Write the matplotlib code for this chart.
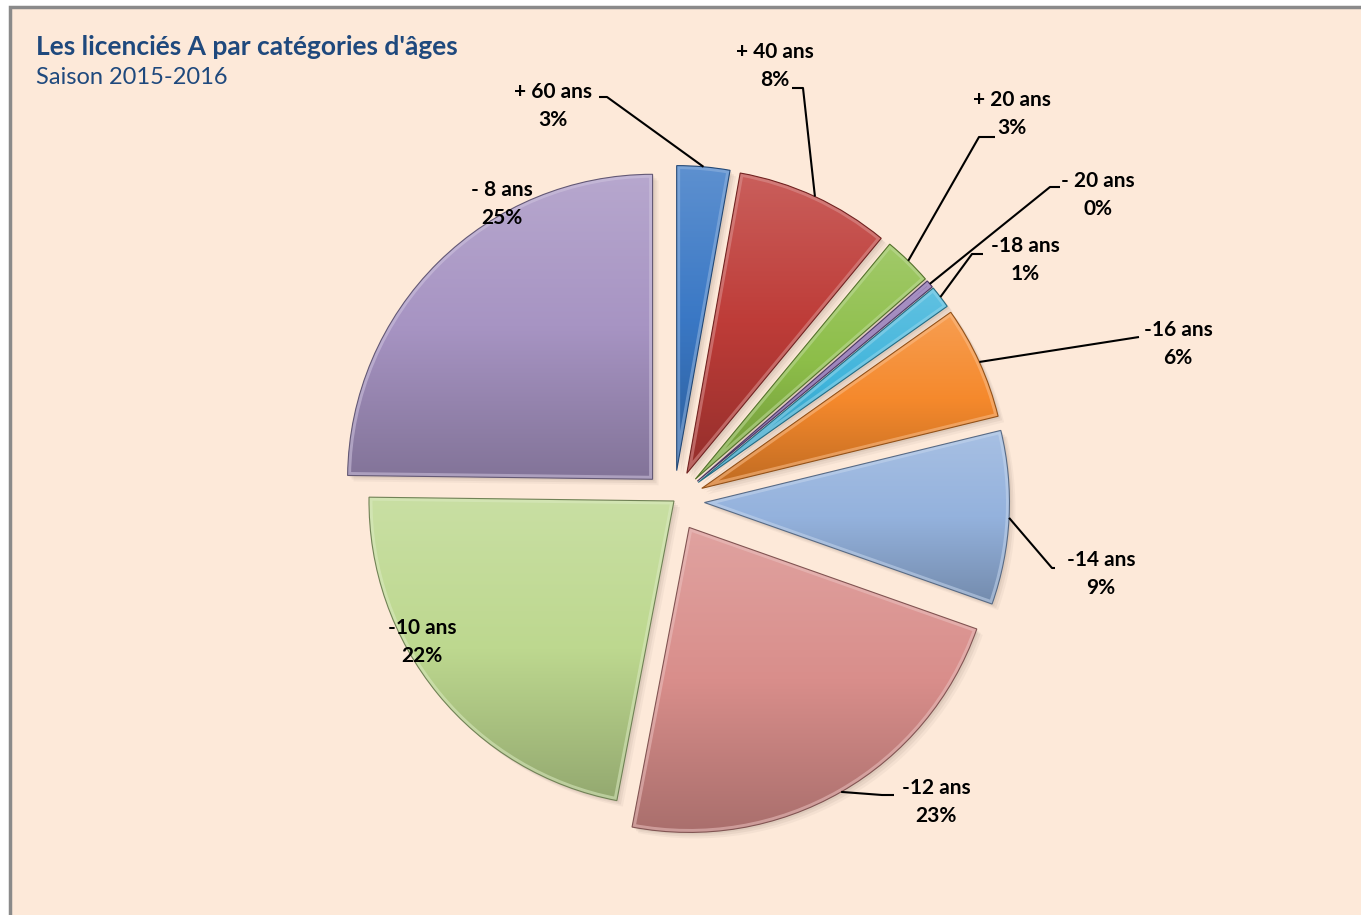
import numpy as np
import matplotlib.pyplot as plt
import matplotlib.colors as mcolors
from matplotlib.patches import Rectangle, Wedge

plt.rcParams['font.family'] = ['Lato', 'DejaVu Sans']

# --- data -------------------------------------------------------------
categories = ['+ 60 ans', '+ 40 ans', '+ 20 ans', '- 20 ans', '-18 ans',
              '-16 ans', '-14 ans', '-12 ans', '-10 ans', '- 8 ans']
values = [2.8, 8.2, 2.6, 0.4, 1.2, 6.0, 9.2, 22.6, 22.2, 24.8]
slice_colors = ['#3A78C5', '#BE3C38', '#8DBE49', '#7D5DA6', '#3FB4DB',
                '#F5892C', '#94B2DD', '#D98E8B', '#BDD88F', '#A794C3']

title = "Les licenciés A par catégories d'âges"
subtitle = "Saison 2015-2016"

# --- layout (pixels, measured from the top-left corner) ----------------
W, H = 1361, 915
R = 305
CX, CY = 674, 501

label_pos = {
    '+ 60 ans': (553, 106), '+ 40 ans': (775, 66), '+ 20 ans': (1012, 114),
    '- 20 ans': (1098, 195), '-18 ans': (1025, 260), '-16 ans': (1178, 344),
    '-14 ans': (1101, 574), '-12 ans': (936, 802), '-10 ans': (422, 642),
    '- 8 ans': (502, 204),
}
# leader line: start point next to the label and elbow, end is on the slice
leaders = {
    '+ 60 ans': [(599, 97), (607, 97)],
    '+ 40 ans': [(792, 88), (803, 88)],
    '+ 20 ans': [(995, 137), (979, 137)],
    '- 20 ans': [(1060, 187), (1050, 187)],
    '-18 ans': [(983, 254), (972, 254)],
    '-16 ans': [(1139, 337), (1139, 337)],
    '-14 ans': [(1055, 568), (1052, 568)],
    '-12 ans': [(894, 795), (882, 795)],
}


def py(y):
    return H - y


fig = plt.figure(figsize=(W / 100, H / 100), dpi=100)
ax = fig.add_axes([0, 0, 1, 1])

# chart area background with grey frame
ax.add_patch(Rectangle((10, -20), W, H - 7 + 20, facecolor='#FDE9D9',
                       edgecolor='#8A8A8A', lw=2.5, zorder=0))

explode = [0.1 * R] * len(values)
explode[categories.index('-10 ans')] = 0

wedges, _ = ax.pie(values, explode=explode, center=(CX, py(CY)), radius=R,
                   startangle=90, counterclock=False, colors=slice_colors,
                   wedgeprops=dict(linewidth=0))
ax.set_xlim(0, W)
ax.set_ylim(0, H)
ax.set_aspect('equal')
ax.axis('off')

grad = np.linspace(0, 1, 256).reshape(-1, 1)
for w, c in zip(wedges, slice_colors):
    base = np.array(mcolors.to_rgb(c))
    top = base + (1 - base) * 0.18
    bot = base * 0.78
    cmap = mcolors.LinearSegmentedColormap.from_list('g', [bot, base, top])
    th = np.radians(np.linspace(w.theta1, w.theta2, 60))
    xs = np.r_[w.center[0], w.center[0] + w.r * np.cos(th)]
    ys = np.r_[w.center[1], w.center[1] + w.r * np.sin(th)]

    # soft shadow
    for k, a in [(6, 0.05), (4, 0.07), (2, 0.08)]:
        ax.add_patch(Wedge((w.center[0] + k, w.center[1] - k), w.r, w.theta1,
                           w.theta2, facecolor='#5a4a40', alpha=a, lw=0, zorder=1))

    im = ax.imshow(grad, cmap=cmap, origin='lower', aspect='auto',
                   extent=[xs.min(), xs.max(), ys.min(), ys.max()],
                   interpolation='bilinear', zorder=2)
    im.set_clip_path(w)
    w.set_facecolor('none')
    w.set_zorder(4)
    w.set_edgecolor(tuple(base * 0.6))
    w.set_linewidth(0.8)

    # bevel highlight along the inner edge
    hl = Wedge(w.center, w.r, w.theta1, w.theta2, facecolor='none',
               edgecolor=tuple(base + (1 - base) * 0.45), lw=5, alpha=0.55,
               zorder=3)
    ax.add_patch(hl)
    hl.set_clip_path(w)

ax.set_xlim(0, W)
ax.set_ylim(0, H)

total = sum(values)
for w, cat, v in zip(wedges, categories, values):
    x, y = label_pos[cat]
    ax.text(x, py(y), f"{cat}\n{round(v / total * 100)}%", ha='center',
            va='center', fontsize=15, fontweight='bold', color='black',
            linespacing=1.45, zorder=6)
    if cat in leaders:
        mid = np.radians((w.theta1 + w.theta2) / 2)
        ex = w.center[0] + w.r * np.cos(mid)
        ey = w.center[1] + w.r * np.sin(mid)
        (sx, sy), (bx, by) = leaders[cat]
        ax.plot([sx, bx, ex], [py(sy), py(by), ey], color='black', lw=1.5,
                zorder=5, solid_capstyle='butt')

ax.text(36, py(47), title, fontsize=19, fontweight='bold', color='#1F497D',
        va='center', ha='left')
ax.text(36, py(78), subtitle, fontsize=17, color='#1F497D', va='center',
        ha='left')

fig.savefig('out.png', dpi=100, facecolor='white')
